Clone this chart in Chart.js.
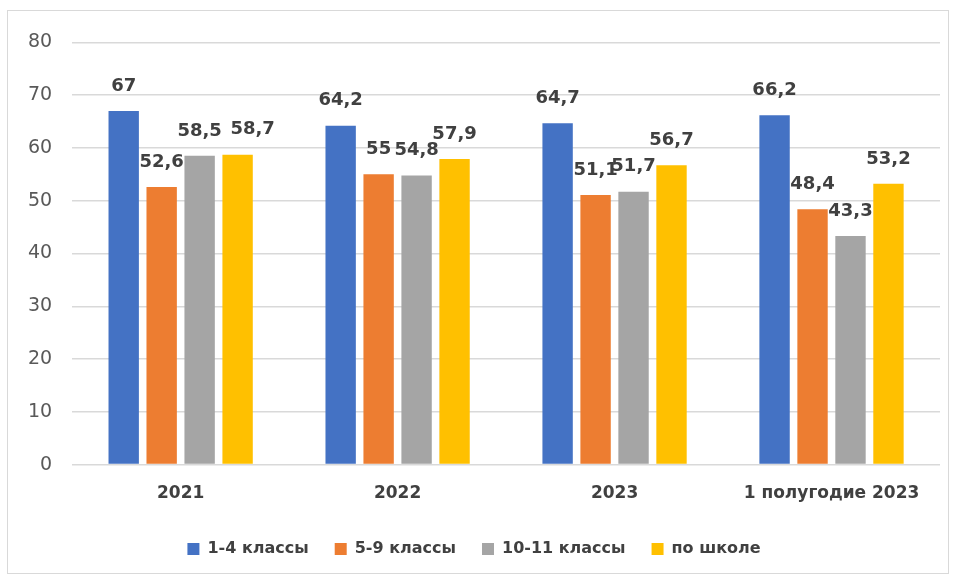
<!DOCTYPE html>
<html>
<head>
<meta charset="utf-8">
<script src="https://cdn.jsdelivr.net/npm/chart.js@4"></script>
<style>
  body { margin: 0; background: #fff; }
  #wrap {
    position: absolute; left: 7px; top: 10px; width: 942px; height: 564px;
    border: 1px solid #d9d9d9; box-sizing: border-box;
  }
</style>
</head>
<body>
<div id="wrap"><canvas id="chart"></canvas></div>
<script>
// categories and series
const categories = ["2021", "2022", "2023", "1 полугодие 2023"];
const seriesNames = ["1-4 классы", "5-9 классы", "10-11 классы", "по школе"];
const grades1to4 = [67, 64.2, 64.7, 66.2];
const grades5to9 = [52.6, 55, 51.1, 48.4];
const grades10to11 = [58.5, 54.8, 51.7, 43.3];
const wholeSchool = [58.7, 57.9, 56.7, 53.2];
const yTicks = [0, 10, 20, 30, 40, 50, 60, 70, 80];

const colors = ["#4472c4", "#ed7d31", "#a5a5a5", "#ffc000"];
const allSeries = [grades1to4, grades5to9, grades10to11, wholeSchool];
const fontFamily = "'DejaVu Sans', sans-serif";

// value labels above bars (comma decimal)
const barLabels = {
  id: "barLabels",
  afterDatasetsDraw(chart) {
    const ctx = chart.ctx;
    ctx.save();
    ctx.font = "bold 18px " + fontFamily;
    ctx.fillStyle = "#404040";
    ctx.textAlign = "center";
    ctx.textBaseline = "bottom";
    chart.data.datasets.forEach((ds, i) => {
      chart.getDatasetMeta(i).data.forEach((bar, j) => {
        // the 2021 "по школе" label was moved aside in the original
        const dx = (i === 3 && j === 0) ? 15 : 0;
        ctx.fillText(String(ds.data[j]).replace(".", ","), bar.x + dx, bar.y - 16);
      });
    });
    ctx.restore();
  }
};

document.addEventListener("DOMContentLoaded", function () {
  const ctx = document.getElementById("chart").getContext("2d");
  new Chart(ctx, {
    type: "bar",
    data: {
      labels: categories,
      datasets: seriesNames.map((name, i) => ({
        label: name,
        data: allSeries[i],
        backgroundColor: colors[i],
        categoryPercentage: 0.7,
        barPercentage: 0.8,
      })),
    },
    options: {
      responsive: true,
      maintainAspectRatio: false,
      animation: false,
      layout: { padding: { top: 18, left: 0, right: 8, bottom: 6 } },
      plugins: {
        tooltip: { enabled: false },
        legend: {
          position: "bottom",
          labels: {
            boxWidth: 12,
            boxHeight: 12,
            padding: 26,
            color: "#404040",
            font: { family: fontFamily, size: 16, weight: "bold" },
          },
        },
      },
      scales: {
        x: {
          grid: { display: false },
          border: { display: false },
          ticks: {
            color: "#404040",
            padding: 11,
            font: { family: fontFamily, size: 17, weight: "bold" },
          },
        },
        y: {
          min: 0,
          max: 80,
          afterBuildTicks: (axis) => { axis.ticks = yTicks.map((v) => ({ value: v })); },
          grid: { color: "#d9d9d9", drawTicks: false, lineWidth: 1.5 },
          border: { display: false },
          ticks: {
            color: "#595959",
            padding: 20,
            font: { family: fontFamily, size: 19 },
          },
        },
      },
    },
    plugins: [barLabels],
  });
});
</script>
</body>
</html>
